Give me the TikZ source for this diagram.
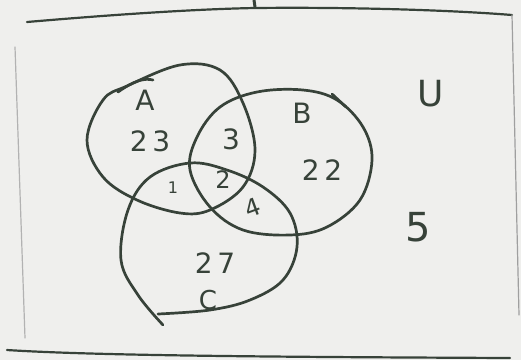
\documentclass[tikz,border=0pt]{standalone}
\usepackage{fontspec}
\setmainfont{DejaVu Sans}
\begin{document}
\begin{tikzpicture}[x=1pt,y=-1pt,
  ink/.style={draw=inkc,line width=2.7pt,line cap=round,line join=round},
  faint/.style={draw=gray!60,line width=1.2pt,line cap=round},
  lbl/.style={text=inkc,font=\fontsize{28}{30}\selectfont,inner sep=0pt},
  small/.style={text=inkc,font=\fontsize{16}{18}\selectfont,inner sep=0pt}]
\definecolor{inkc}{RGB}{55,66,57}
\definecolor{paper}{RGB}{239,239,237}
\fill[paper] (0,0) rectangle (521,360);
\useasboundingbox (0,0) rectangle (521,360);
% frame
\draw[ink,line width=2.2pt] (27,22) .. controls (120,14) and (200,9) .. (255,8) .. controls (350,7) and (450,10) .. (512,15);
\draw[ink,line width=3pt] (254,0) -- (255,7);
\draw[faint,gray!75] (512,15) -- (519,315);
\draw[faint] (15,47) -- (25,338);
\draw[ink,line width=2.2pt] (7,350) .. controls (100,356) and (300,357) .. (510,358);
% set A
\draw[ink] plot[smooth cycle,tension=0.6] coordinates {(87,140) (103,100) (127,86) (180,65) (220,70) (243,103) (255,150) (243,187) (210,210) (180,213) (137,200) (103,177)};
\draw[ink] (118,92) .. controls (135,80) and (145,78) .. (153,80);
% set B
\draw[ink] plot[smooth cycle,tension=0.6] coordinates {(190,170) (197,137) (220,107) (257,92) (303,90) (337,100) (363,127) (372,160) (360,200) (327,227) (290,235) (243,230) (210,207)};
\draw[ink] (332,94) -- (346,107);
% set C
\draw[ink] plot[smooth,tension=0.6] coordinates {(163,325) (138,295) (121,260) (128,210) (150,177) (190,163) (227,170) (263,187) (290,213) (297,247) (283,280) (250,300) (210,310) (158,314)};
% labels
\node[lbl] (la) at (145,100) {A};
\node[lbl] (l23) at (150,141) {2\,3};
\node[lbl] (l3) at (231,139) {3};
\node[lbl] (lb) at (302,113) {B};
\node[lbl] (l22) at (322,170) {2\,2};
\node[small] (l1) at (173,188) {1};
\node[lbl,font=\fontsize{24}{26}\selectfont] (l2) at (223,180) {2};
\node[lbl,font=\fontsize{24}{26}\selectfont,rotate=20] (l4) at (253,208) {4};
\node[lbl] (l27) at (215,263) {2\,7};
\node[lbl,font=\fontsize{26}{28}\selectfont] (lc) at (208,300) {C};
\node[lbl,font=\fontsize{36}{38}\selectfont] (lu) at (431,94) {U};
\node[lbl,font=\fontsize{40}{42}\selectfont] (l5) at (418,227) {5};
\end{tikzpicture}
\end{document}
